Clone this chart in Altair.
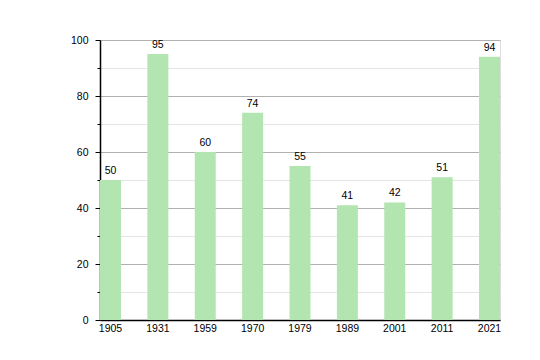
import altair as alt
import pandas as pd

years = ["1905", "1931", "1959", "1970", "1979", "1989", "2001", "2011", "2021"]
values = [50, 95, 60, 74, 55, 41, 42, 51, 94]
major_ticks = [0, 20, 40, 60, 80, 100]
minor_ticks = [10, 30, 50, 70, 90]

df = pd.DataFrame({"year": years, "value": values})
FONT = "Liberation Sans"

xenc = alt.X("year:N", sort=years,
             scale=alt.Scale(paddingInner=0.557, paddingOuter=0, align=0),
             axis=alt.Axis(title=None, labelAngle=0, ticks=False, domain=True,
                           domainColor="black", domainWidth=1.5, labelPadding=3,
                           labelFontSize=10.5, labelFont=FONT, labelColor="black"))

yscale = alt.Scale(domain=[0, 100], nice=False)

minor = alt.Chart(df).mark_bar(opacity=0).encode(
    x=xenc,
    y=alt.Y("value:Q", scale=yscale,
            axis=alt.Axis(title=None, orient="left", values=minor_ticks, labels=False,
                          tickSize=3, tickColor="black", domain=False,
                          grid=True, gridColor="#e4e4e4", gridWidth=1)),
)

bars = alt.Chart(df).mark_bar(color="#b2e5b0").encode(
    x=xenc,
    y=alt.Y("value:Q", scale=yscale,
            axis=alt.Axis(title=None, orient="left", values=major_ticks,
                          tickSize=5, tickColor="black", domain=True, domainColor="black",
                          domainWidth=1.5, grid=True, gridColor="#b0b0b0", gridWidth=1,
                          labelFontSize=10.5, labelFont=FONT, labelColor="black",
                          labelPadding=7)),
)

text = alt.Chart(df).mark_text(baseline="bottom", dy=-4, fontSize=10.5, font=FONT,
                               color="black").encode(
    x=xenc,
    y=alt.Y("value:Q", scale=yscale, axis=None),
    text="value:Q",
)

chart = alt.layer(minor, bars, text).resolve_axis(y="independent").properties(
    width=400, height=280,
    autosize=alt.AutoSizeParams(type="none"),
    padding={"left": 92, "top": 32, "right": 32, "bottom": 32},
).configure_view(stroke=None).configure(background="white")

chart.save("out.html", embed_options={"renderer": "svg", "actions": False})
